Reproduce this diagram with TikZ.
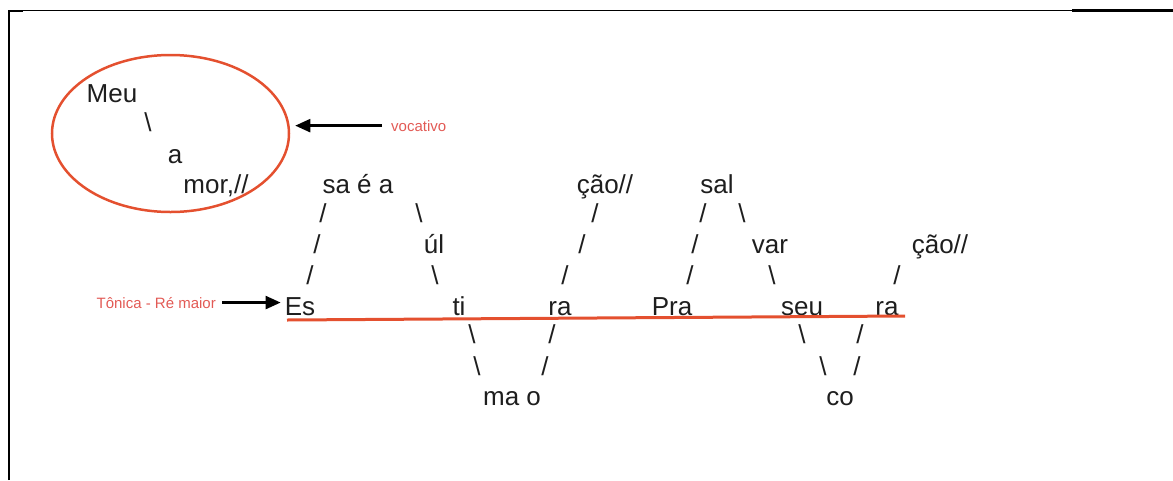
\documentclass[tikz,border=0pt]{standalone}
\usepackage{fontspec}
\setmainfont{Liberation Sans}
\usetikzlibrary{arrows.meta,shapes.geometric}
\definecolor{ink}{HTML}{1E1E1E}
\definecolor{tonic}{HTML}{E4502F}
\definecolor{note}{HTML}{E25A55}
\tikzset{
  syl/.style={anchor=base, inner sep=0pt, text=ink, font=\fontsize{26}{31}\selectfont},
  tag/.style={inner sep=0pt, text=note, font=\fontsize{15}{18}\selectfont},
  pointer/.style={line width=2.3pt, -{Triangle[length=15pt,width=13pt]}},
}
\begin{document}
\begin{tikzpicture}[x=1pt,y=-1pt]
\useasboundingbox (0,0) rectangle (1173,480);
% frame
\draw[line width=2pt] (9,480) -- (9,10.5) -- (23,10.5);
\draw[line width=1pt] (23,10.5) -- (1072,10.5);
\draw[line width=2.2pt] (1072,10.5) -- (1173,10.5);

% vocative, circled
\node[draw=tonic, line width=2.5pt, ellipse, minimum width=237pt, minimum height=157pt, inner sep=0pt] (ell) at (170.5,133.5) {};
\node[syl] (meu) at (112,102) {Meu};
\node[syl] (v1) at (148,131) {\textbackslash};
\node[syl] (a1) at (175,163) {a};
\node[syl] (mor) at (216,193) {mor,//};
\node[tag, anchor=base west] (voc) at (391,131) {vocativo};
\draw[pointer] ([xshift=-9pt]voc.west) -- ([xshift=5pt]ell.east |- voc.west);

% tonic label
\node[tag, anchor=base east] (ton) at (216,308) {Tônica - Ré maior};

% melody line, row by row
\node[syl] (saea) at (358,193) {sa é a};
\node[syl] (cao1) at (605,193) {ção//};
\node[syl] (sal) at (717,193) {sal};

\node[syl] (s51) at (323,222) {/};
\node[syl] (s52) at (419,222) {\textbackslash};
\node[syl] (s53) at (595,222) {/};
\node[syl] (s54) at (703,222) {/};
\node[syl] (s55) at (742,222) {\textbackslash};

\node[syl] (s61) at (317,253) {/};
\node[syl] (ul) at (434,253) {úl};
\node[syl] (s63) at (582,253) {/};
\node[syl] (s64) at (695,253) {/};
\node[syl] (var) at (770,253) {var};
\node[syl] (cao2) at (940,253) {ção//};

\node[syl] (s71) at (310,284) {/};
\node[syl] (s72) at (435,284) {\textbackslash};
\node[syl] (s73) at (565,284) {/};
\node[syl] (s74) at (690,284) {/};
\node[syl] (s75) at (772,284) {\textbackslash};
\node[syl] (s76) at (897,284) {/};

\node[syl] (es) at (300,315) {Es};
\node[syl] (ti) at (459,315) {ti};
\node[syl] (ra1) at (560,315) {ra};
\node[syl] (pra) at (672,315) {Pra};
\node[syl] (seu) at (802,315) {seu};
\node[syl] (ra2) at (887,315) {ra};

\node[syl] (s91) at (472,343) {\textbackslash};
\node[syl] (s92) at (552,343) {/};
\node[syl] (s93) at (802,343) {\textbackslash};
\node[syl] (s94) at (860,343) {/};

\node[syl] (s101) at (477,375) {\textbackslash};
\node[syl] (s102) at (545,375) {/};
\node[syl] (s103) at (823,375) {\textbackslash};
\node[syl] (s104) at (857,375) {/};

\node[syl] (mao) at (512,405) {ma o};
\node[syl] (co) at (840,405) {co};

% tonic reference line and pointer
\coordinate (tl) at (287,320);
\coordinate (tr) at (905,316);
\draw[tonic, line width=3pt] (tl) -- (tr);
\draw[pointer] ([xshift=6pt]ton.east) -- ([xshift=-4pt]es.west |- ton.east);
\end{tikzpicture}
\end{document}
